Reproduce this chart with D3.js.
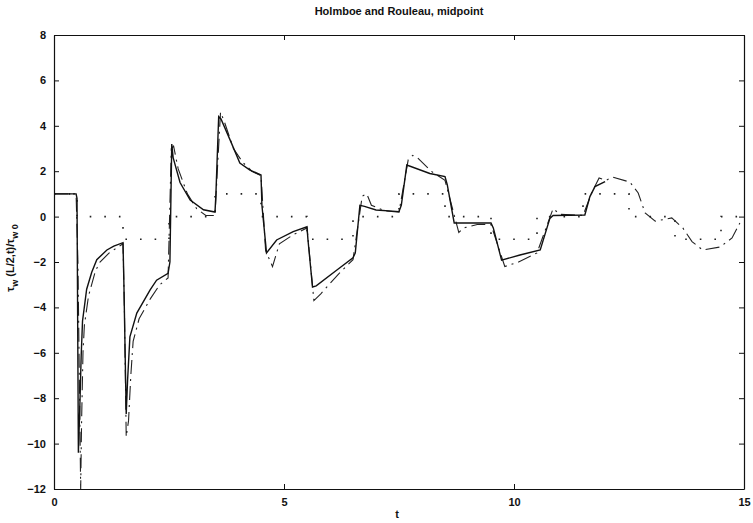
<!DOCTYPE html>
<html>
<head>
<meta http-equiv="Content-type" content="text/html; charset=utf-8">
<title>Holmboe and Rouleau, midpoint</title>
<script src="https://d3js.org/d3.v7.min.js"></script>
<style>
  body { margin: 0; background: #fff; }
  text { font-family: "Liberation Sans", Arial, sans-serif; font-weight: bold; fill: #111; }
</style>
</head>
<body>
<svg id="chart" width="753" height="523"></svg>
<script>
// tick labels
var xTicks = [0, 5, 10, 15];
var yTicks = [-12, -10, -8, -6, -4, -2, 0, 2, 4, 6, 8];

// dotted reference (step values start at each t)
var refT = [0, 0.5, 1.5, 2.5, 3.5, 4.5, 5.5, 6.5, 7.5, 8.5, 9.5, 10.5, 11.5, 12.5, 13.5, 14.5, 15];
var refV = [1, 0, -1, 0, 1, 0, -1, 0, 1, 0, -1, 0, 1, 0, -1, 0, 0];

// solid series
var solidT = [0, 0.48, 0.5, 0.53, 0.56, 0.59, 0.62, 0.71, 0.82, 0.93, 1.15, 1.3, 1.5,
  1.52, 1.57, 1.6, 1.65, 1.8, 2.09, 2.23, 2.48, 2.52, 2.56, 2.59, 2.74, 2.96, 3.25, 3.5,
  3.52, 3.58, 3.63, 3.83, 4.04, 4.26, 4.5, 4.52, 4.62, 4.84, 5.2, 5.5,
  5.52, 5.62, 5.7, 6.15, 6.5, 6.55, 6.65, 6.75, 7.0, 7.5, 7.55, 7.67, 8.17, 8.5,
  8.55, 8.7, 9.5, 9.55, 9.73, 10.13, 10.57, 10.78, 10.85, 11.54, 11.65, 11.76, 11.98];
var solidV = [1, 1, 0.8, -10.4, -8.5, -6.2, -4.6, -3.2, -2.45, -1.9, -1.47, -1.3, -1.15,
  -3, -8.7, -7.2, -5.3, -4.25, -3.23, -2.8, -2.5, -2.0, 3.2, 2.6, 1.5, 0.73, 0.3, 0.2,
  1, 4.4, 4.3, 3.37, 2.36, 2.05, 1.83, 0.5, -1.6, -1.03, -0.66, -0.45,
  -1, -3.1, -3.05, -2.35, -1.82, -1.6, 0.5, 0.45, 0.29, 0.22, 0.5, 2.27, 1.9, 1.76,
  1.4, -0.28, -0.28, -0.5, -1.92, -1.69, -1.47, -0.08, 0.05, 0.07, 0.88, 1.32, 1.54];

// dash-dot series
var dashT = [0, 0.48, 0.52, 0.58, 0.6, 0.63, 0.66, 0.75, 0.9, 1.0, 1.2, 1.5,
  1.53, 1.57, 1.62, 1.67, 1.72, 1.85, 2.1, 2.3, 2.48, 2.55, 2.6, 2.7, 2.9, 3.1, 3.3, 3.5,
  3.55, 3.62, 3.7, 3.9, 4.1, 4.3, 4.5, 4.6, 4.75, 4.9, 5.2, 5.5,
  5.65, 5.8, 6.2, 6.5, 6.7, 6.8, 6.9, 7.2, 7.5, 7.7, 7.8, 7.9, 8.2, 8.5,
  8.8, 8.9, 9.2, 9.5, 9.8, 10.1, 10.5, 10.85, 11.0, 11.5, 11.7, 11.85, 12.0,
  12.15, 12.52, 12.7, 12.85, 13.07, 13.43, 13.67, 13.87, 14.1, 14.48, 14.74, 14.91];
var dashV = [1, 1, -2, -12, -9, -6, -4.8, -3.5, -2.4, -2.0, -1.6, -1.2,
  -4, -9.7, -9, -7, -5.5, -4.5, -3.6, -3.0, -2.7, 3.0, 3.1, 2.1, 1.0, 0.35, 0.05, 0.05,
  2, 4.6, 4.2, 3.0, 2.4, 2.0, 1.8, -1.5, -2.2, -1.2, -0.8, -0.5,
  -3.7, -3.4, -2.5, -1.9, 0.9, 1.0, 0.5, 0.25, 0.2, 2.5, 2.7, 2.6, 2.0, 1.6,
  -0.7, -0.5, -0.35, -0.35, -2.2, -2.0, -1.6, 0.35, 0.1, 0.05, 1.1, 1.7, 1.6,
  1.74, 1.52, 1.04, 0.16, -0.2, -0.06, -0.5, -1.1, -1.47, -1.34, -0.94, -0.28];

var mLeft = 54, mRight = 744, mTop = 35, mBottom = 489;

var svg = d3.select("#chart");
var x = d3.scaleLinear().domain([0, 15]).range([mLeft, mRight]);
var y = d3.scaleLinear().domain([-12, 8]).range([mBottom, mTop]);

function zipPts(ts, vs) {
  return ts.map(function (t, i) { return [t, vs[i]]; });
}

var line = d3.line().x(function (d) { return x(d[0]); }).y(function (d) { return y(d[1]); });

svg.append("defs").append("clipPath").attr("id", "clip")
  .append("rect").attr("x", mLeft).attr("y", mTop).attr("width", mRight - mLeft).attr("height", mBottom - mTop);

var plot = svg.append("g").attr("clip-path", "url(#clip)");

// reference step (dotted)
plot.append("path")
  .datum(zipPts(refT, refV))
  .attr("d", line.curve(d3.curveStepAfter))
  .attr("fill", "none").attr("stroke", "#222").attr("stroke-width", 1.6)
  .attr("stroke-dasharray", "1.6,13");
line.curve(d3.curveLinear);

plot.append("path")
  .datum(zipPts(dashT, dashV))
  .attr("d", line)
  .attr("fill", "none").attr("stroke", "#222").attr("stroke-width", 1.1)
  .attr("stroke-dasharray", "14,5,2,5");

plot.append("path")
  .datum(zipPts(solidT, solidV))
  .attr("d", line)
  .attr("fill", "none").attr("stroke", "#111").attr("stroke-width", 1.4);

// axes: box with inward ticks on all sides
var axB = svg.append("g").attr("transform", "translate(0," + mBottom + ")")
  .call(d3.axisBottom(x).tickValues(xTicks).tickSizeInner(-5).tickSizeOuter(0).tickPadding(9));
var axT = svg.append("g").attr("transform", "translate(0," + mTop + ")")
  .call(d3.axisTop(x).tickValues(xTicks).tickSizeInner(-5).tickSizeOuter(0).tickFormat(""));
var axL = svg.append("g").attr("transform", "translate(" + mLeft + ",0)")
  .call(d3.axisLeft(y).tickValues(yTicks).tickSizeInner(-5).tickSizeOuter(0).tickPadding(8));
var axR = svg.append("g").attr("transform", "translate(" + mRight + ",0)")
  .call(d3.axisRight(y).tickValues(yTicks).tickSizeInner(-5).tickSizeOuter(0).tickFormat(""));

[axB, axT, axL, axR].forEach(function (g) {
  g.select(".domain").attr("stroke", "#111").attr("stroke-width", 1.2);
  g.selectAll(".tick line").attr("stroke", "#111");
  g.selectAll("text").attr("font-family", "'Liberation Sans', Arial, sans-serif")
    .attr("font-weight", "bold").attr("font-size", 11).attr("fill", "#111");
});

// title
svg.append("text").attr("x", (mLeft + mRight) / 2).attr("y", 15)
  .attr("text-anchor", "middle").attr("font-size", 11)
  .text("Holmboe and Rouleau, midpoint");

// x label
svg.append("text").attr("x", (mLeft + mRight) / 2 - 2).attr("y", 518)
  .attr("text-anchor", "middle").attr("font-size", 11).text("t");

// y label with subscripts
var yl = svg.append("text")
  .attr("transform", "translate(14," + 258 + ") rotate(-90)")
  .attr("text-anchor", "middle").attr("font-size", 11);
yl.append("tspan").text("\u03c4");
yl.append("tspan").attr("dy", 4).attr("font-size", 9).text("w");
yl.append("tspan").attr("dy", -4).text(" (L/2,t)/\u03c4");
yl.append("tspan").attr("dy", 4).attr("font-size", 9).text("w 0");
</script>
</body>
</html>
